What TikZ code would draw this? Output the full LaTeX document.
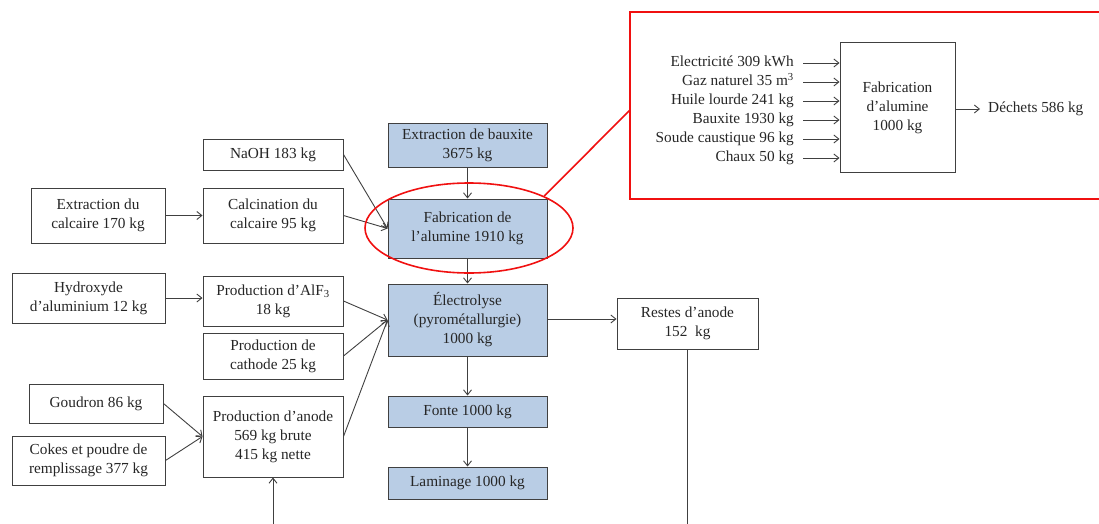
\documentclass[tikz,border=0pt]{standalone}
\usepackage{fontspec}
\setmainfont{Liberation Serif}
\usetikzlibrary{arrows.meta,shapes.geometric}
\definecolor{lineC}{HTML}{404040}
\definecolor{txtC}{HTML}{262626}
\definecolor{blueF}{HTML}{B9CDE5}
\definecolor{redC}{HTML}{F01010}
\tikzset{
  pbox/.style={draw=lineC, line width=1pt, fill=white, inner sep=0pt, align=center,
    text=txtC, font=\fontsize{15.3}{19}\selectfont},
  bbox/.style={pbox, fill=blueF},
  arr/.style={draw=lineC, line width=0.9pt, -{Straight Barb[length=5pt,width=8pt]}},
  ln/.style={draw=lineC, line width=0.9pt},
  lab/.style={inner sep=0pt, text=txtC, font=\fontsize{15.3}{19}\selectfont, anchor=east,
    text height=10.5pt, text depth=3.5pt},
}
\begin{document}
\begin{tikzpicture}[x=1pt,y=-1pt]
\useasboundingbox (0,0) rectangle (1099,524);
% left column
\node[pbox, minimum width=140pt, minimum height=31pt] (naoh) at (273,154.5) {NaOH 183 kg};
\node[pbox, minimum width=134pt, minimum height=55pt] (extc) at (98,215.5) {Extraction du\\calcaire 170 kg};
\node[pbox, minimum width=140pt, minimum height=55pt] (calc) at (273,215.5) {Calcination du\\calcaire 95 kg};
\node[pbox, minimum width=153pt, minimum height=50pt] (hydr) at (88.5,298) {Hydroxyde\\d’aluminium 12 kg};
\node[pbox, minimum width=140pt, minimum height=50pt] (alf) at (273,301) {Production d’AlF\textsubscript{3}\\18 kg};
\node[pbox, minimum width=140pt, minimum height=46pt] (cath) at (273,356) {Production de\\cathode 25 kg};
\node[pbox, minimum width=134pt, minimum height=39pt] (goud) at (96,403.5) {Goudron 86 kg};
\node[pbox, minimum width=153pt, minimum height=49pt] (coke) at (88.5,460.5) {Cokes et poudre de\\remplissage 377 kg};
\node[pbox, minimum width=140pt, minimum height=81pt] (anode) at (273,436.5) {Production d’anode\\569 kg brute\\415 kg nette};
\coordinate (anin) at (273,524);
% central column
\node[bbox, minimum width=159pt, minimum height=44pt] (extb) at (467.5,145) {Extraction de bauxite\\3675 kg};
\node[bbox, minimum width=159pt, minimum height=59pt] (fab) at (467.5,228.5) {Fabrication de\\l’alumine 1910 kg};
\node[bbox, minimum width=159pt, minimum height=72pt] (elec) at (467.5,320) {Électrolyse\\(pyrométallurgie)\\1000 kg};
\node[bbox, minimum width=159pt, minimum height=31pt] (fonte) at (467.5,411.5) {Fonte 1000 kg};
\node[bbox, minimum width=159pt, minimum height=32pt] (lam) at (467.5,483) {Laminage 1000 kg};
\node[pbox, minimum width=141pt, minimum height=51pt] (rest) at (687.5,323.5) {Restes d’anode\\152\enspace kg};
\coordinate (restout) at (687.5,524);
% connectors
\draw[arr] (naoh.east) -- (fab.west);
\draw[arr] (calc.east) -- (fab.west);
\draw[arr] (extc.east) -- (calc.west);
\draw[arr] (hydr.east) -- (hydr.east -| alf.west);
\draw[arr] (alf.east) -- (elec.west);
\draw[arr] (cath.east) -- (elec.west);
\draw[arr] (anode.east) -- (elec.west);
\draw[arr] (goud.east) -- (anode.west);
\draw[arr] (coke.east) -- (anode.west);
\draw[arr] (anin) -- (anode.south);
\draw[arr] (extb.south) -- (fab.north);
\draw[arr] (fab.south) -- (elec.north);
\draw[arr] (elec.south) -- (fonte.north);
\draw[arr] (fonte.south) -- (lam.north);
\draw[arr] ([yshift=1pt]elec.east) -- ([yshift=1pt]elec.east -| rest.west);
\draw[ln] (rest.south) -- (restout);
% red highlight
\node[draw=redC, line width=1.6pt, ellipse, minimum width=208pt, minimum height=90pt, inner sep=0pt] (hl) at (469,228) {};
\coordinate (zc) at (630,110);
\draw[redC, line width=1.6pt] (hl.23) -- (zc);
\draw[redC, line width=1.8pt] (1100,12) -- (630,12) -- (630,199) -- (1100,199);
% zoomed detail
\node[pbox, minimum width=115pt, minimum height=129pt] (fab2) at (897.5,107.5) {Fabrication\\d’alumine\\1000 kg};
\node[lab] (e1) at (794,63) {Electricité 309 kWh};
\node[lab] (e2) at (794,82) {Gaz naturel 35 m\textsuperscript{3}};
\node[lab] (e3) at (794,101) {Huile lourde 241 kg};
\node[lab] (e4) at (794,120) {Bauxite 1930 kg};
\node[lab] (e5) at (794,139) {Soude caustique 96 kg};
\node[lab] (e6) at (794,158) {Chaux 50 kg};
\foreach \i in {1,...,6}{
  \draw[arr] ([xshift=9pt]e\i.east) -- (e\i.east -| fab2.west);
}
\node[lab, anchor=west] (dech) at (988,109) {Déchets 586 kg};
\draw[arr] (fab2.east |- dech.west) -- ([xshift=-8pt]dech.west);
\end{tikzpicture}
\end{document}
